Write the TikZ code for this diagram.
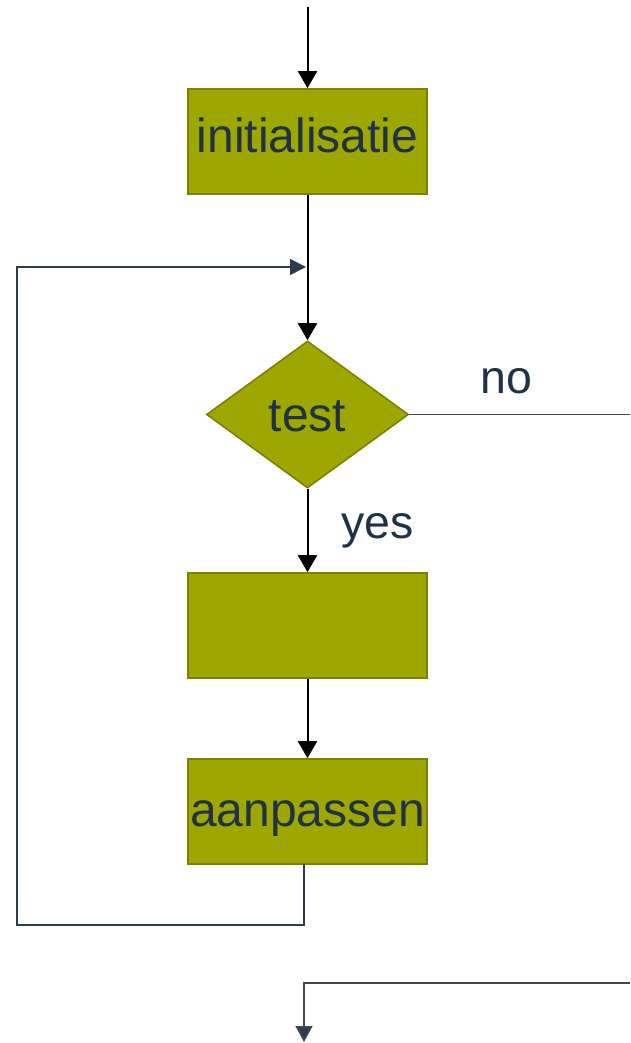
\documentclass[tikz,border=0pt]{standalone}
\usepackage{fontspec}
\setmainfont{Liberation Sans}
\usetikzlibrary{shapes.geometric,arrows.meta}

\definecolor{olivefill}{HTML}{9EA700}
\definecolor{oliveedge}{HTML}{7C8200}
\definecolor{slatetext}{HTML}{1F3246}
\definecolor{slateline}{HTML}{2C3B4D}
\definecolor{greyline}{HTML}{474747}

\tikzset{
  stepbox/.style={draw=oliveedge, fill=olivefill, line width=1.6pt,
    minimum width=239pt, minimum height=105pt, inner sep=0pt,
    text=slatetext, font=\fontsize{48}{48}\selectfont,
    text height=34.4pt, text depth=11.4pt},
  decision/.style={shape=diamond, draw=oliveedge, fill=olivefill, line width=1.6pt,
    minimum width=202pt, minimum height=147pt, inner sep=0pt,
    text=slatetext, font=\fontsize{48}{48}\selectfont,
    text height=34.4pt, text depth=0pt},
  flowlabel/.style={text=slatetext, font=\fontsize{46.5}{46.5}\selectfont,
    inner sep=0pt, anchor=base},
  mainarrow/.style={draw=black, line width=2pt, -{Triangle[width=19pt,length=17pt]}},
  looparrow/.style={draw=slateline, line width=1.5pt, -{Triangle[width=16pt,length=16pt]}},
  exitline/.style={draw=greyline, line width=1.5pt},
  exitarrow/.style={draw=greyline, line width=1.5pt,
    -{Triangle[width=17pt,length=16pt,fill=slateline]}},
}

\begin{document}
\begin{tikzpicture}[x=1pt,y=-1pt]
  \useasboundingbox (0,0) rectangle (630,1043);

  % flow blocks
  \node[stepbox] (init) at (307.5,141.5) {initialisatie};
  \node[decision] (test) at (307.5,414.5) {test};
  \node[stepbox] (body) at (307.5,625.5) {};
  \node[stepbox, text depth=5.4pt] (adjust) at (307.5,811.5) {aanpassen};

  % branch labels
  \node[flowlabel] (nolabel) at (506,393) {no};
  \node[flowlabel] (yeslabel) at (377.5,538) {yes};

  % helper points for the free ends and bends
  \coordinate (entry) at (307.5,7);
  \coordinate (join) at (306,267);
  \coordinate (loopstart) at (304,864);
  \coordinate (loopcorner) at (17,925);
  \coordinate (noend) at (630,414.5);
  \coordinate (exitstart) at (630,983);
  \coordinate (exitend) at (304,1042);

  % main flow
  \draw[mainarrow] (entry) -- (init.north);
  \draw[mainarrow] (init.south) -- (test.north);
  \draw[mainarrow] (test.south) -- (body.north);
  \draw[mainarrow] (body.south) -- (adjust.north);

  % loop back to the test
  \draw[looparrow] (loopstart) |- (loopcorner) |- (join);

  % exit branch
  \draw[exitline] (test.east) -- (noend);
  \draw[exitarrow] (exitstart) -| (exitend);
\end{tikzpicture}
\end{document}
